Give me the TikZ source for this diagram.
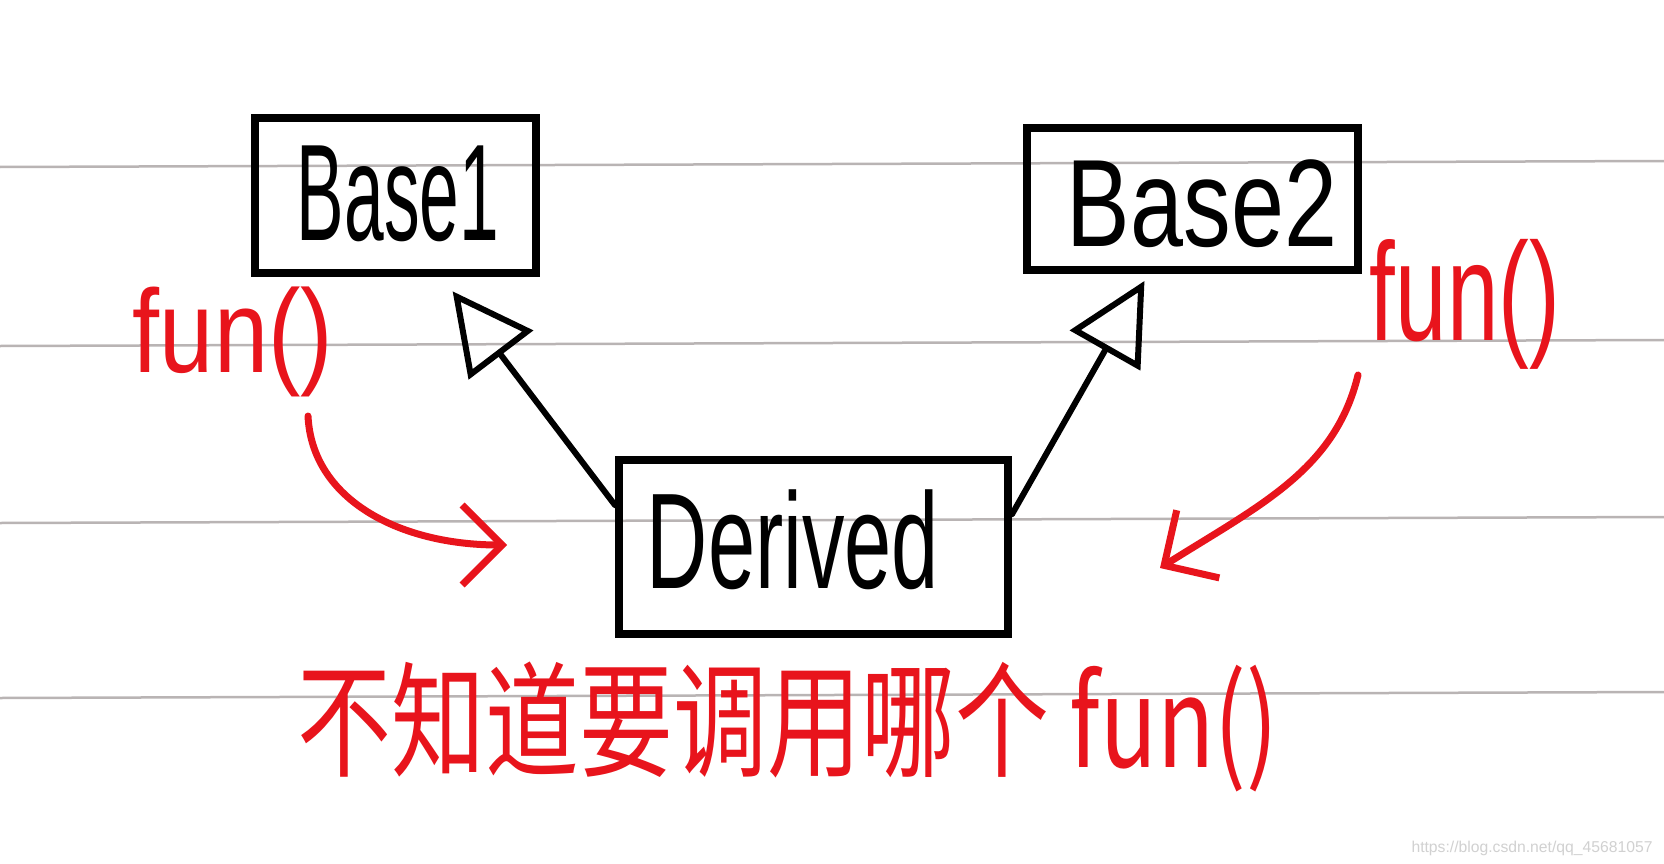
\documentclass[tikz,border=0pt]{standalone}
\usepackage{fontspec}
\setmainfont{Liberation Sans}
\newfontfamily\cjk{Noto Sans CJK SC}
\usetikzlibrary{arrows.meta,calc}
\definecolor{handred}{RGB}{232,20,28}
\definecolor{rule}{RGB}{185,180,180}
\tikzset{
  classbox/.style={draw=black, line width=8pt, inner sep=0pt, fill=none},
  inh/.style={draw=black, line width=6pt, line cap=round, line join=round,
    -{Triangle[open, length=80pt, width=80pt, line width=6pt]}},
  redarr/.style={draw=handred, line width=7pt, line cap=round,
    -{Straight Barb[length=40pt, width=80pt, line width=7pt]}},
  ruleline/.style={draw=rule, line width=2.5pt},
  redtxt/.style={text=handred, inner sep=0pt},
  blacktxt/.style={text=black, inner sep=0pt}
}
\begin{document}
\begin{tikzpicture}[x=1pt,y=-1pt]
\useasboundingbox (0,0) rectangle (1664,864);
\fill[white] (0,0) rectangle (1664,864);
% ruled lines
\foreach \yy in {164,343,520,695} {
  \draw[ruleline] (0,\yy+3) -- (1664,\yy-3);
}
% class boxes
\node[classbox, minimum width=281pt, minimum height=155pt] (base1) at (395.5,195.5) {};
\node[classbox, minimum width=331pt, minimum height=142pt] (base2) at (1192.5,199) {};
\node[classbox, minimum width=389pt, minimum height=174pt] (derived) at (813.5,547) {};
\node[blacktxt] (t1) at (398,194) {\resizebox*{202pt}{96pt}{Base1}};
\node[blacktxt] (t2) at (1202,204) {\resizebox*{270pt}{88pt}{Base2}};
\node[blacktxt] (t3) at (793,540) {\resizebox*{292pt}{100pt}{Derived}};
% inheritance connectors
\draw[inh, shorten >=18pt] ($(derived.north west)!0.27!(derived.south west)$) -- ($(base1.south west)!0.66!(base1.south east)$);
\draw[inh, shorten >=8pt] ($(derived.north east)!0.32!(derived.south east)$) -- ($(base2.south west)!0.37!(base2.south east)$);
% red labels
\node[redtxt] (f1) at (233,342) {\resizebox*{200pt}{110pt}{fun()}};
\node[redtxt] (f2) at (1465,304) {\resizebox*{190pt}{130pt}{fun()}};
\node[redtxt] (msg) at (788,727) {\resizebox*{980pt}{130pt}{\cjk 不知道要调用哪个 fun()}};
% red curved arrows
\coordinate (la1) at (308,416);
\coordinate (la2) at (507,545);
\coordinate (ra1) at (1358,375);
\coordinate (ra2) at (1160,568);
\draw[redarr] (la1) .. controls (312,500) and (400,545) .. (la2);
\draw[redarr] (ra1) .. controls (1335,470) and (1260,505) .. (ra2);
% watermark
\node[inner sep=0pt, text=black!18] (wm) at (1532,848) {\resizebox{241pt}{!}{https://blog.csdn.net/qq\_45681057}};
\end{tikzpicture}
\end{document}
